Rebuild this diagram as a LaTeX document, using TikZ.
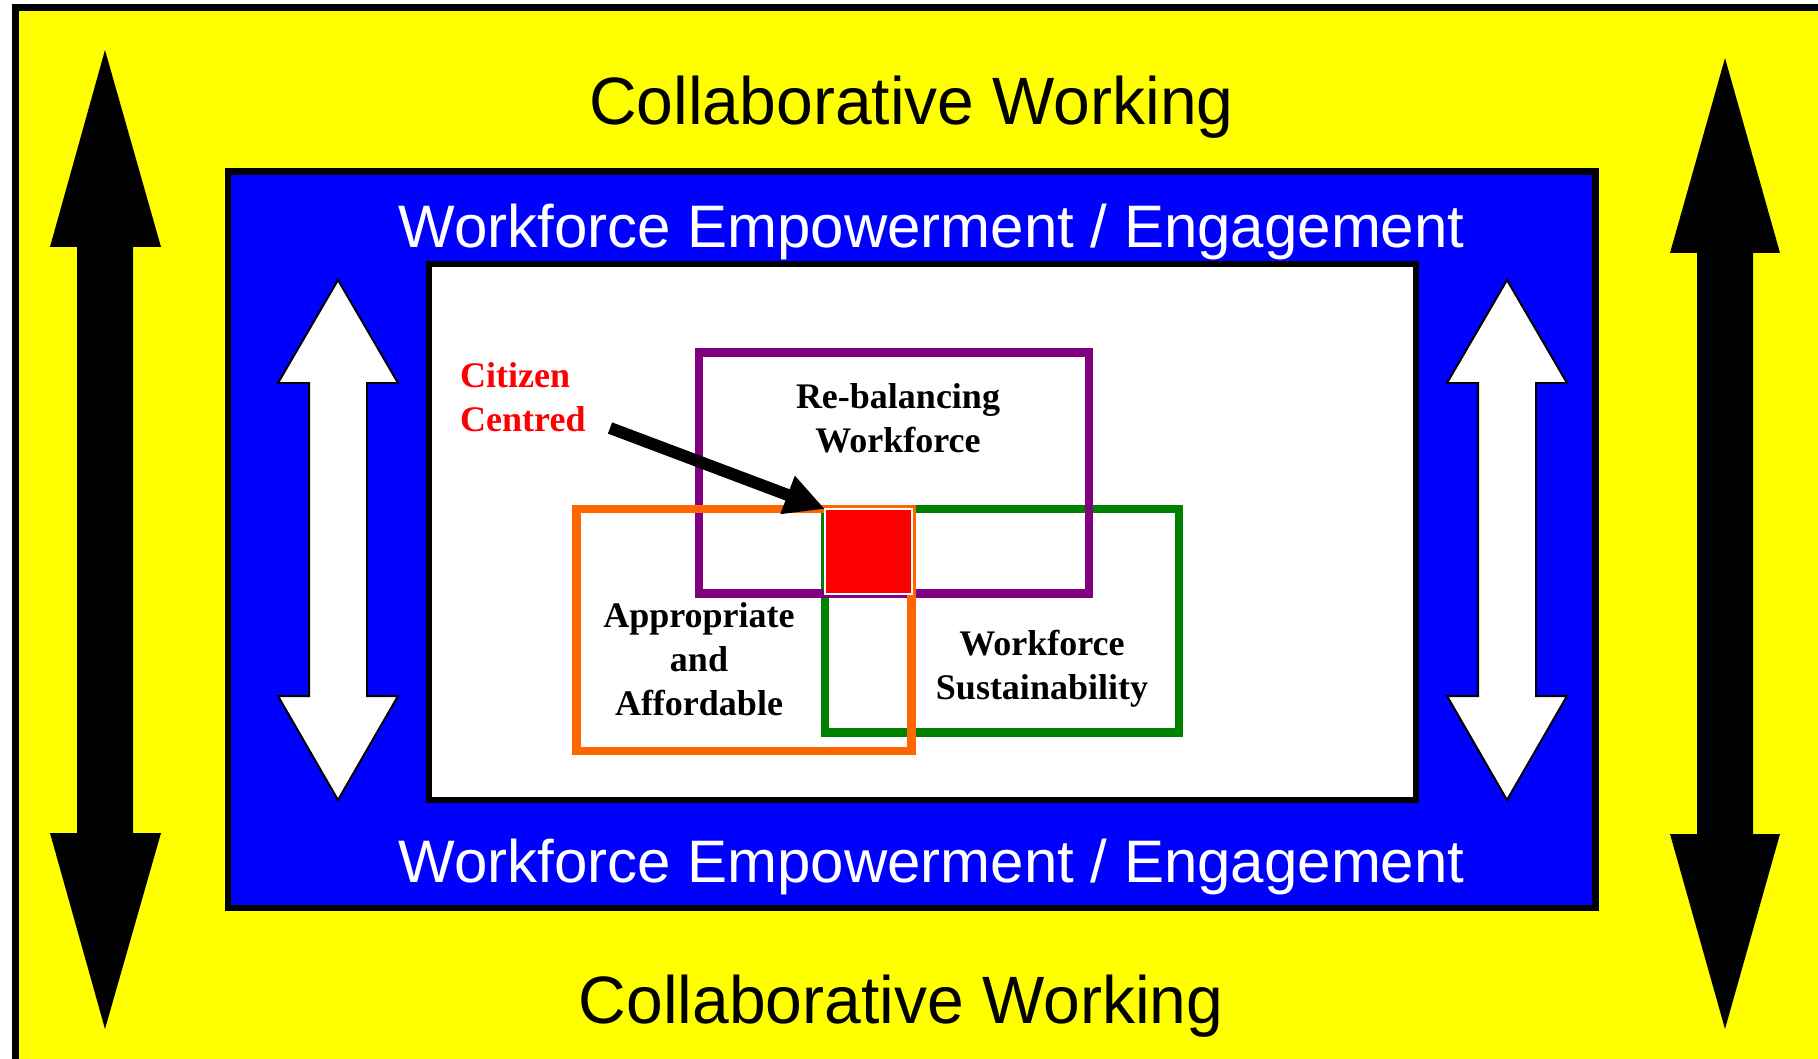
\documentclass[tikz,border=0pt]{standalone}
\usepackage{fontspec}
\setmainfont{Liberation Serif}
\setsansfont{Liberation Sans}
\usepackage{graphicx}
\usetikzlibrary{arrows.meta}
\definecolor{cyellow}{RGB}{255,255,0}
\definecolor{cblue}{RGB}{0,0,255}
\definecolor{cpurple}{RGB}{128,0,128}
\definecolor{corange}{RGB}{255,102,0}
\definecolor{cgreen}{RGB}{0,128,0}
\definecolor{cred}{RGB}{255,0,0}
\tikzset{
 bigsans/.style={font=\sffamily\fontsize{67}{80}\selectfont, inner sep=0pt, anchor=base},
 empsans/.style={font=\sffamily\fontsize{60}{72}\selectfont, text=white, inner sep=0pt, anchor=base},
 lbl/.style={font=\rmfamily\bfseries\fontsize{36}{44}\selectfont, inner sep=0pt, anchor=base},
 ovl/.style={line width=8.5pt, anchor=north west, inner sep=0pt, outer sep=0pt},
 blackarrow/.style={fill=black},
 whitearrow/.style={fill=white, draw=black, line width=2pt, line join=miter},
}
\begin{document}
\begin{tikzpicture}[x=1pt,y=-1pt]
\clip (0,0) rectangle (1818,1059);
\fill[white] (0,0) rectangle (1818,1059);
% outer yellow frame
\draw[fill=cyellow, line width=7pt] (15.5,7.5) rectangle (1840,1062.5);
% black double arrows
\fill[blackarrow] (105,50) -- (161,247) -- (133,247) -- (133,833) -- (161,833) -- (105,1029) -- (50,833) -- (77,833) -- (77,247) -- (50,247) -- cycle;
\fill[blackarrow] (1725,58) -- (1780,253) -- (1753,253) -- (1753,834) -- (1780,834) -- (1725,1029) -- (1670,834) -- (1697,834) -- (1697,253) -- (1670,253) -- cycle;
% blue frame
\draw[fill=cblue, line width=6.5pt] (228,171.5) rectangle (1595.5,908);
% white double arrows
\draw[whitearrow] (338,280) -- (398,383) -- (367,383) -- (367,696) -- (398,696) -- (338,800) -- (278,696) -- (309,696) -- (309,383) -- (278,383) -- cycle;
\draw[whitearrow] (1507,280) -- (1567,383) -- (1536,383) -- (1536,696) -- (1567,696) -- (1507,800) -- (1447,696) -- (1478,696) -- (1478,383) -- (1447,383) -- cycle;
% white panel
\draw[fill=white, line width=5.5pt] (429,264) rectangle (1416,800);
% texts
\node[bigsans] (cwtop) at (911.5,125) {\scalebox{0.985}[1]{Collaborative Working}};
\node[bigsans] (cwbot) at (901,1023) {\scalebox{0.985}[1]{Collaborative Working}};
\node[empsans] (wetop) at (931.5,248) {Workforce Empowerment / Engagement};
\node[empsans] (webot) at (931.5,882) {Workforce Empowerment / Engagement};
% overlapping boxes
\node[ovl, draw=cgreen, minimum width=354pt, minimum height=223.5pt] (ws) at (825,509) {};
\node[ovl, draw=cpurple, minimum width=390pt, minimum height=241pt] (rb) at (699,352.5) {};
\node[ovl, draw=corange, minimum width=335pt, minimum height=242pt] (aa) at (576.5,509) {};
\node[fill=cred, draw=white, line width=1.5pt, minimum width=87pt, minimum height=85pt, anchor=north west, inner sep=0pt, outer sep=0pt] (cc) at (825,509) {};
% arrow
\coordinate (tail) at (610,428);
\draw[line width=12pt, -{Triangle[length=40pt,width=38pt]}] (tail) -- (cc.north west);
% labels
\node[lbl, text=cred, anchor=base west] (cit) at (460,387) {\begin{tabular}[t]{@{}l@{}}Citizen\\Centred\end{tabular}};
\node[lbl] (rbl) at (898,408) {\begin{tabular}[t]{@{}c@{}}Re-balancing\\Workforce\end{tabular}};
\node[lbl] (aal) at (699,627) {\begin{tabular}[t]{@{}c@{}}Appropriate\\and\\Affordable\end{tabular}};
\node[lbl] (wsl) at (1042,655) {\begin{tabular}[t]{@{}c@{}}Workforce\\Sustainability\end{tabular}};
\end{tikzpicture}
\end{document}
